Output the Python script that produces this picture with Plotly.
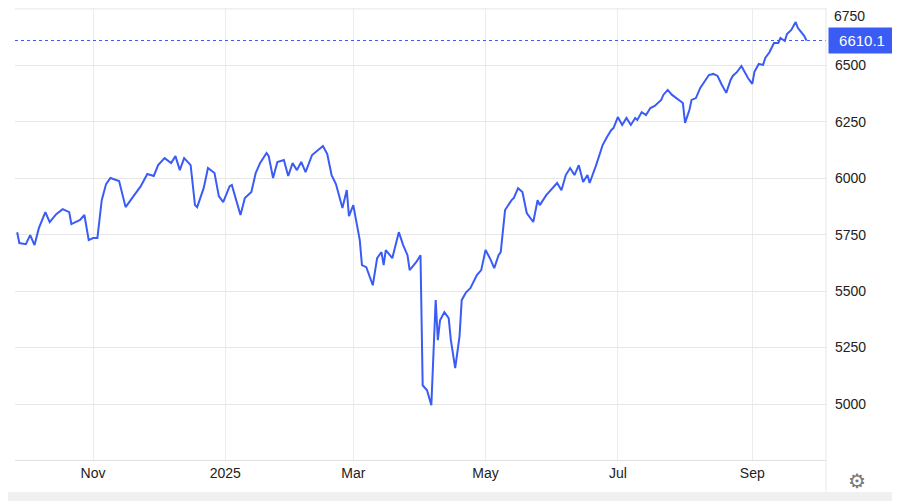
import plotly.graph_objects as go

dates = ["2024-09-27","2024-09-28","2024-10-01","2024-10-03","2024-10-05","2024-10-07","2024-10-10","2024-10-12","2024-10-15","2024-10-18",
"2024-10-21","2024-10-22","2024-10-26","2024-10-28","2024-10-30","2024-11-01","2024-11-03","2024-11-05","2024-11-07","2024-11-09",
"2024-11-13","2024-11-16","2024-11-19","2024-11-23","2024-11-26","2024-11-29","2024-12-01","2024-12-04","2024-12-07","2024-12-09",
"2024-12-11","2024-12-13","2024-12-16","2024-12-18","2024-12-19","2024-12-22","2024-12-24","2024-12-27","2024-12-29","2024-12-31",
"2025-01-03","2025-01-04","2025-01-06","2025-01-08","2025-01-10","2025-01-13","2025-01-15","2025-01-17","2025-01-20","2025-01-21",
"2025-01-23","2025-01-25","2025-01-28","2025-01-30","2025-02-01","2025-02-03","2025-02-05","2025-02-07","2025-02-10","2025-02-13",
"2025-02-15","2025-02-17","2025-02-19","2025-02-21","2025-02-24","2025-02-26","2025-02-27","2025-03-01","2025-03-03","2025-03-04",
"2025-03-05","2025-03-07","2025-03-10","2025-03-12","2025-03-14","2025-03-15","2025-03-16","2025-03-19","2025-03-22","2025-03-24",
"2025-03-26","2025-03-27","2025-03-30","2025-04-01","2025-04-02","2025-04-04","2025-04-06","2025-04-08","2025-04-09","2025-04-10",
"2025-04-12","2025-04-14","2025-04-15","2025-04-17","2025-04-19","2025-04-20","2025-04-22","2025-04-24","2025-04-27","2025-04-29",
"2025-05-01","2025-05-03","2025-05-05","2025-05-07","2025-05-08","2025-05-10","2025-05-13","2025-05-14","2025-05-16","2025-05-18",
"2025-05-20","2025-05-23","2025-05-25","2025-05-26","2025-05-29","2025-05-31","2025-06-03","2025-06-05","2025-06-07","2025-06-09",
"2025-06-11","2025-06-13","2025-06-15","2025-06-17","2025-06-18","2025-06-21","2025-06-22","2025-06-24","2025-06-26","2025-06-28",
"2025-06-29","2025-07-01","2025-07-03","2025-07-05","2025-07-07","2025-07-09","2025-07-10","2025-07-12","2025-07-14","2025-07-16",
"2025-07-18","2025-07-21","2025-07-22","2025-07-24","2025-07-26","2025-07-29","2025-07-31","2025-08-01","2025-08-03","2025-08-04",
"2025-08-06","2025-08-08","2025-08-10","2025-08-12","2025-08-14","2025-08-16","2025-08-18","2025-08-20","2025-08-22","2025-08-23",
"2025-08-25","2025-08-27","2025-08-30","2025-09-01","2025-09-02","2025-09-04","2025-09-06","2025-09-07","2025-09-09","2025-09-11",
"2025-09-13","2025-09-14","2025-09-16","2025-09-17","2025-09-19","2025-09-21","2025-09-22","2025-09-24","2025-09-25","2025-09-26"]

values = [5761,5713,5708,5748,5704,5779,5850,5806,5841,5863,
5850,5797,5815,5837,5726,5735,5735,5903,5974,6001,
5988,5872,5912,5965,6019,6010,6058,6089,6067,6098,
6036,6089,6058,5881,5872,5956,6045,6023,5921,5894,
5965,5970,5903,5837,5912,5939,6023,6067,6112,6098,
6001,6072,6081,6010,6067,6036,6072,6027,6103,6125,
6143,6107,6014,5974,5868,5948,5832,5881,5779,5726,
5615,5606,5526,5646,5673,5615,5682,5646,5761,5704,
5659,5593,5628,5659,5083,5061,4995,5460,5283,5371,
5407,5380,5283,5159,5300,5460,5495,5513,5571,5593,
5682,5646,5602,5659,5673,5859,5903,5912,5956,5939,
5846,5806,5903,5881,5925,5947,5979,5947,6014,6045,
6014,6058,5983,6014,5979,6058,6089,6147,6183,6214,
6222,6271,6236,6267,6236,6267,6258,6293,6280,6311,
6320,6347,6369,6391,6369,6347,6333,6245,6302,6347,
6355,6400,6426,6457,6462,6453,6413,6378,6435,6453,
6471,6497,6444,6418,6471,6506,6502,6533,6559,6599,
6599,6621,6608,6639,6657,6692,6666,6644,6630,6610.1]

tick_vals = ["2024-11-01","2025-01-01","2025-03-01","2025-05-01","2025-07-01","2025-09-01"]
tick_text = ["Nov","2025","Mar","May","Jul","Sep"]
y_ticks = [5000,5250,5500,5750,6000,6250,6500]
top_tick = 6750
last_label = "6610.1"
blue = "#3a5cf5"

fig = go.Figure(go.Scatter(x=dates, y=values, mode="lines",
                           line=dict(color=blue, width=2), hoverinfo="skip"))
fig.add_hline(y=values[-1], line=dict(color=blue, width=1, dash="dot"))
fig.add_hline(y=top_tick, line=dict(color="#e6e6e6", width=1), layer="below")
fig.add_annotation(xref="paper", yref="paper", x=1, y=1, xanchor="left", yanchor="top",
                   xshift=6, yshift=2, text=str(top_tick), showarrow=False,
                   font=dict(size=14, color="#222", family="Liberation Sans, Arial"))
fig.add_annotation(xref="paper", x=1.002, y=values[-1], xanchor="left", yanchor="middle",
                   text=last_label, showarrow=False, bgcolor=blue,
                   font=dict(color="white", size=15, family="Liberation Sans, Arial"),
                   borderpad=4, width=58)
fig.add_annotation(xref="paper", yref="paper", x=1.038, y=-0.046, text="⚙", showarrow=False,
                   font=dict(size=20, color="#777"), xanchor="center", yanchor="middle")
fig.add_shape(type="line", xref="paper", yref="paper", x0=1, x1=1, y0=-0.07, y1=1,
              line=dict(color="#e6e6e6", width=1))
fig.add_shape(type="rect", xref="paper", yref="paper", x0=-0.02, x1=1.1, y0=-0.071, y1=-0.1,
              fillcolor="#f0f0f0", line=dict(width=0))

fig.update_layout(
    width=900, height=501, margin=dict(l=7, r=82, t=0, b=49, autoexpand=False),
    paper_bgcolor="white", plot_bgcolor="white", showlegend=False,
    font=dict(family="Liberation Sans, Arial", size=14, color="#222"),
    xaxis=dict(range=["2024-09-26","2025-10-05"], tickvals=tick_vals, ticktext=tick_text,
               showgrid=True, gridcolor="#ececec", showline=True, linecolor="#e0e0e0",
               ticks="", zeroline=False, fixedrange=True, automargin=False),
    yaxis=dict(side="right", range=[4752, 6754], tickvals=y_ticks,
               showgrid=True, gridcolor="#e6e6e6", ticks="", zeroline=False,
               ticklabelstandoff=8, fixedrange=True, automargin=False),
)
fig.write_html("out.html")
